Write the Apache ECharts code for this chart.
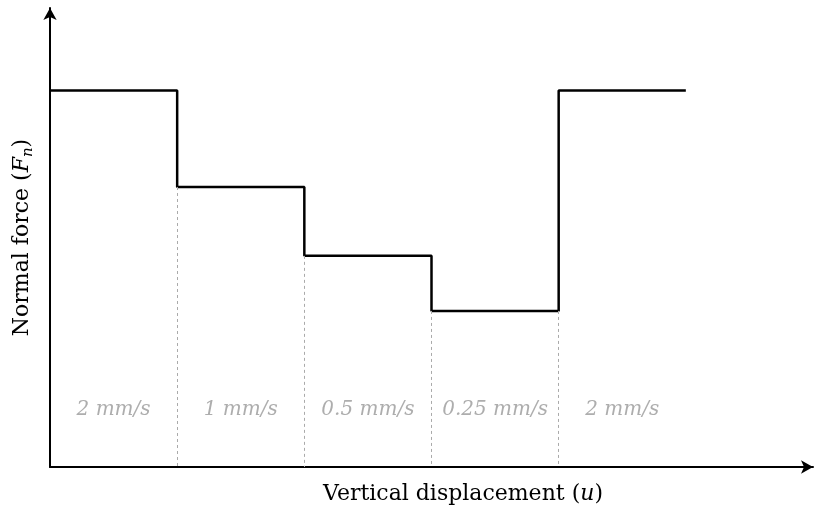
<!DOCTYPE html>
<html>
<head>
<meta charset="utf-8">
<script src="https://cdn.jsdelivr.net/npm/echarts@6/dist/echarts.min.js"></script>
<style>
  html, body { margin: 0; padding: 0; background: #fff; }
  #chart { width: 814px; height: 517px; }
</style>
</head>
<body>
<div id="chart"></div>
<script>
// Stage boundaries along the displacement axis (arbitrary units)
const boundaries = [0, 1, 2, 3, 4, 5];
// Normal force level held during each stage (arbitrary units)
const levels = [82, 61, 46, 34, 82];
// Loading rate applied during each stage
const speedLabels = ['2 mm/s', '1 mm/s', '0.5 mm/s', '0.25 mm/s', '2 mm/s'];
// Height at which the rate labels sit
const labelHeight = 12.5;

const serif = '"DejaVu Serif", "Liberation Serif", serif';

// Step profile: one point per boundary, the last one repeats the final level
const stepData = boundaries.map((b, i) => [b, levels[Math.min(i, levels.length - 1)]]);

// Dashed guides from the force profile down to the axis at each rate change
const guideLines = boundaries.slice(1, -1).map((b, i) => [
  { coord: [b, Math.min(levels[i], levels[i + 1])] },
  { coord: [b, 0] }
]);

// Rate labels centred in each stage
const labelData = speedLabels.map((s, i) => ({
  value: [(boundaries[i] + boundaries[i + 1]) / 2, labelHeight],
  name: s
}));

const chart = echarts.init(document.getElementById('chart'), null, { renderer: 'canvas' });

chart.setOption({
  animation: false,
  backgroundColor: '#ffffff',
  grid: { left: 50, right: 1, top: 8, bottom: 50, containLabel: false, outerBoundsMode: 'none' },
  xAxis: {
    type: 'value',
    min: 0,
    max: 6,
    name: '{a|Vertical displacement (}{i|u}{a|)}',
    nameLocation: 'middle',
    nameGap: 16,
    nameTextStyle: {
      padding: [0, 0, 0, 63],
      rich: {
        a: { fontFamily: serif, fontSize: 22, color: '#000' },
        i: { fontFamily: serif, fontSize: 22, fontStyle: 'italic', color: '#000' }
      }
    },
    axisLine: {
      show: true,
      symbol: ['none', 'arrow'],
      symbolSize: [10, 12],
      lineStyle: { color: '#000', width: 2 }
    },
    axisTick: { show: false },
    axisLabel: { show: false },
    splitLine: { show: false }
  },
  yAxis: {
    type: 'value',
    min: 0,
    max: 100,
    name: '{a|Normal force (}{i|F}{s|n}{a|)}',
    nameLocation: 'middle',
    nameGap: 14,
    nameRotate: 90,
    nameTextStyle: {
      rich: {
        a: { fontFamily: serif, fontSize: 22, color: '#000', lineHeight: 27 },
        i: { fontFamily: serif, fontSize: 22, fontStyle: 'italic', color: '#000', lineHeight: 27 },
        s: { fontFamily: serif, fontSize: 15, fontStyle: 'italic', color: '#000', lineHeight: 27, verticalAlign: 'bottom' }
      }
    },
    axisLine: {
      show: true,
      symbol: ['none', 'arrow'],
      symbolSize: [10, 12],
      lineStyle: { color: '#000', width: 2 }
    },
    axisTick: { show: false },
    axisLabel: { show: false },
    splitLine: { show: false }
  },
  series: [
    {
      type: 'line',
      step: 'end',
      data: stepData,
      showSymbol: false,
      symbol: 'none',
      lineStyle: { color: '#000', width: 2.5 },
      z: 3,
      markLine: {
        silent: true,
        symbol: ['none', 'none'],
        label: { show: false },
        lineStyle: { color: '#aaaaaa', type: [3, 3], width: 1 },
        data: guideLines
      }
    },
    {
      type: 'scatter',
      data: labelData,
      symbolSize: 0,
      silent: true,
      label: {
        show: true,
        position: 'inside',
        formatter: p => p.name,
        fontFamily: serif,
        fontStyle: 'italic',
        fontSize: 20,
        color: '#999999'
      }
    }
  ]
});
</script>
</body>
</html>
